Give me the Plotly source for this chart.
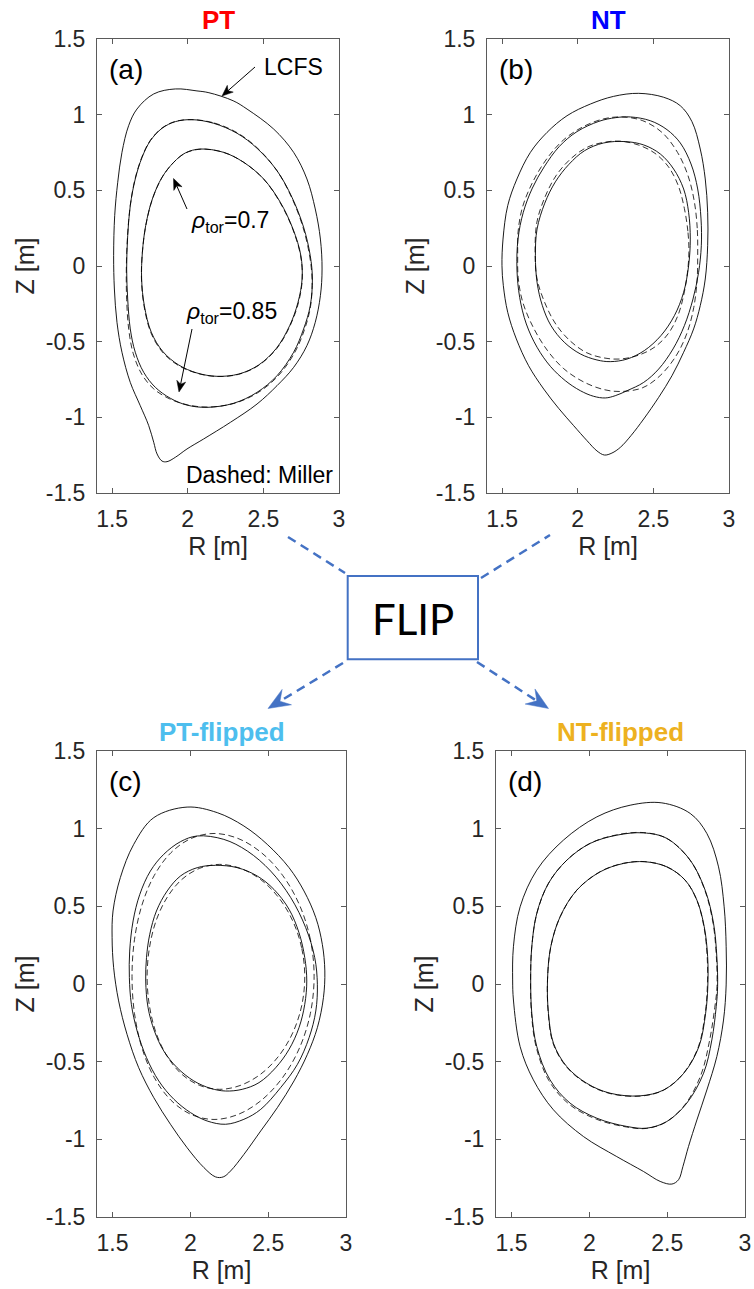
import plotly.graph_objects as go

W, H = 754, 1289

# ---------------- flux surfaces, (R, Z) in metres ----------------
# (a) PT equilibrium
PT_LCFS_R = [1.918, 2.061, 2.140, 2.300, 2.392, 2.568, 2.700, 2.788, 2.843, 2.877, 2.888, 2.877, 2.843, 2.788,
             2.700, 2.590, 2.458, 2.282, 2.105, 1.995, 1.918, 1.863, 1.830, 1.797, 1.775, 1.742, 1.686, 1.620,
             1.565, 1.532, 1.515, 1.510, 1.517, 1.537, 1.565, 1.609, 1.664, 1.775]
PT_LCFS_Z = [1.170, 1.157, 1.145, 1.092, 1.037, 0.905, 0.751, 0.575, 0.377, 0.178, -0.020, -0.196, -0.372,
             -0.526, -0.670, -0.791, -0.912, -1.033, -1.143, -1.209, -1.264, -1.293, -1.289, -1.242, -1.165,
             -1.055, -0.923, -0.769, -0.570, -0.372, -0.152, 0.068, 0.333, 0.553, 0.751, 0.927, 1.037, 1.137]
PT_085_R = [2.028, 2.171, 2.326, 2.458, 2.590, 2.689, 2.766, 2.810, 2.824, 2.810, 2.766, 2.700, 2.590, 2.458,
            2.304, 2.127, 1.995, 1.885, 1.786, 1.709, 1.653, 1.620, 1.603, 1.596, 1.603, 1.620, 1.653, 1.698,
            1.753, 1.830, 1.918]
PT_085_Z = [0.967, 0.943, 0.877, 0.778, 0.630, 0.454, 0.256, 0.068, -0.086, -0.262, -0.416, -0.570, -0.725,
            -0.835, -0.907, -0.934, -0.919, -0.874, -0.802, -0.703, -0.570, -0.416, -0.218, -0.020, 0.200,
            0.399, 0.575, 0.718, 0.828, 0.910, 0.954]
PT_085_MILLER_R = [2.035, 2.175, 2.328, 2.460, 2.588, 2.686, 2.762, 2.806, 2.822, 2.812, 2.772, 2.706, 2.596,
                   2.462, 2.306, 2.135, 2.000, 1.880, 1.775, 1.696, 1.640, 1.610, 1.596, 1.594, 1.602, 1.620,
                   1.652, 1.697, 1.752, 1.830, 1.920]
PT_085_MILLER_Z = [0.967, 0.945, 0.880, 0.780, 0.632, 0.455, 0.256, 0.066, -0.090, -0.266, -0.420, -0.574,
                   -0.728, -0.838, -0.908, -0.932, -0.918, -0.878, -0.812, -0.715, -0.580, -0.420, -0.220,
                   -0.020, 0.200, 0.400, 0.577, 0.720, 0.830, 0.912, 0.956]
PT_070_R = [2.083, 2.237, 2.370, 2.502, 2.612, 2.696, 2.748, 2.756, 2.729, 2.674, 2.586, 2.469, 2.337, 2.193,
            2.061, 1.940, 1.836, 1.759, 1.713, 1.695, 1.700, 1.722, 1.766, 1.830, 1.907, 1.984]
PT_070_Z = [0.773, 0.751, 0.685, 0.575, 0.421, 0.244, 0.068, -0.086, -0.240, -0.394, -0.544, -0.654, -0.714,
            -0.729, -0.707, -0.654, -0.566, -0.438, -0.262, -0.086, 0.090, 0.267, 0.443, 0.586, 0.685, 0.747]
PT_070_MILLER_R = [2.090, 2.240, 2.372, 2.502, 2.610, 2.694, 2.746, 2.757, 2.732, 2.676, 2.588, 2.470, 2.336,
                   2.192, 2.058, 1.936, 1.832, 1.756, 1.711, 1.694, 1.700, 1.723, 1.767, 1.831, 1.908, 1.988]
PT_070_MILLER_Z = [0.772, 0.750, 0.684, 0.574, 0.420, 0.244, 0.068, -0.088, -0.242, -0.396, -0.546, -0.656,
                   -0.716, -0.730, -0.708, -0.656, -0.568, -0.440, -0.264, -0.086, 0.090, 0.268, 0.444, 0.587,
                   0.686, 0.748]

# (b) NT equilibrium
NT_LCFS_R = [2.403, 2.568, 2.678, 2.755, 2.810, 2.843, 2.859, 2.859, 2.843, 2.810, 2.766, 2.700, 2.623, 2.535,
             2.436, 2.352, 2.282, 2.226, 2.176, 2.127, 2.061, 1.973, 1.874, 1.775, 1.675, 1.594, 1.537, 1.508,
             1.499, 1.506, 1.537, 1.598, 1.687, 1.797, 1.929, 2.083, 2.237]
NT_LCFS_Z = [1.141, 1.115, 1.059, 0.954, 0.773, 0.575, 0.355, 0.134, -0.086, -0.262, -0.416, -0.570, -0.725,
             -0.868, -1.011, -1.121, -1.198, -1.236, -1.249, -1.222, -1.154, -1.055, -0.941, -0.813, -0.659,
             -0.482, -0.306, -0.130, 0.002, 0.178, 0.399, 0.575, 0.751, 0.883, 0.993, 1.070, 1.121]
NT_085_R = [2.348, 2.480, 2.590, 2.678, 2.749, 2.793, 2.815, 2.817, 2.799, 2.762, 2.705, 2.630, 2.535, 2.436,
            2.326, 2.248, 2.182, 2.105, 2.017, 1.918, 1.819, 1.731, 1.660, 1.616, 1.598, 1.605, 1.640, 1.700,
            1.778, 1.878, 1.995, 2.140, 2.249]
NT_085_Z = [0.985, 0.960, 0.901, 0.813, 0.674, 0.509, 0.311, 0.134, -0.042, -0.218, -0.394, -0.548, -0.681,
            -0.769, -0.824, -0.857, -0.872, -0.861, -0.824, -0.758, -0.663, -0.537, -0.383, -0.207, -0.020,
            0.178, 0.355, 0.515, 0.655, 0.790, 0.888, 0.956, 0.980]
NT_085_MILLER_R = [2.793, 2.790, 2.770, 2.728, 2.660, 2.560, 2.430, 2.290, 2.170, 2.035, 1.908, 1.800, 1.705,
                   1.635, 1.606, 1.603, 1.606, 1.635, 1.705, 1.800, 1.908, 2.035, 2.170, 2.290, 2.430, 2.545,
                   2.650, 2.722, 2.767, 2.789]
NT_085_MILLER_Z = [0.078, 0.250, 0.430, 0.600, 0.750, 0.880, 0.960, 0.985, 0.972, 0.920, 0.835, 0.715, 0.560,
                   0.390, 0.230, 0.078, -0.074, -0.234, -0.404, -0.559, -0.679, -0.764, -0.816, -0.829, -0.804,
                   -0.724, -0.594, -0.444, -0.274, -0.094]
NT_070_R = [2.315, 2.436, 2.546, 2.634, 2.700, 2.733, 2.744, 2.733, 2.700, 2.639, 2.550, 2.440, 2.326, 2.215,
            2.127, 2.017, 1.911, 1.823, 1.766, 1.731, 1.720, 1.731, 1.782, 1.852, 1.942, 2.045, 2.171]
NT_070_Z = [0.822, 0.800, 0.740, 0.641, 0.509, 0.355, 0.178, 0.002, -0.174, -0.328, -0.460, -0.559, -0.615,
            -0.632, -0.621, -0.581, -0.504, -0.394, -0.262, -0.108, 0.068, 0.244, 0.415, 0.556, 0.672, 0.762,
            0.813]
NT_070_MILLER_R = [2.735, 2.728, 2.705, 2.665, 2.600, 2.510, 2.400, 2.275, 2.160, 2.057, 1.952, 1.856, 1.781,
                   1.730, 1.718, 1.730, 1.781, 1.856, 1.952, 2.057, 2.160, 2.275, 2.400, 2.510, 2.600, 2.665,
                   2.705, 2.728]
NT_070_MILLER_Z = [0.105, 0.230, 0.380, 0.530, 0.655, 0.745, 0.800, 0.825, 0.815, 0.782, 0.707, 0.596, 0.450,
                   0.290, 0.105, -0.080, -0.240, -0.386, -0.497, -0.572, -0.605, -0.615, -0.590, -0.535,
                   -0.445, -0.320, -0.170, -0.020]

# (c) PT-flipped equilibrium
PTF_LCFS_R = [1.979, 2.173, 2.344, 2.494, 2.634, 2.730, 2.806, 2.848, 2.864, 2.855, 2.816, 2.752, 2.666, 2.559,
              2.452, 2.344, 2.258, 2.211, 2.162, 2.087, 1.979, 1.872, 1.765, 1.668, 1.593, 1.539, 1.507, 1.497,
              1.503, 1.550, 1.636, 1.765]
PTF_LCFS_Z = [1.139, 1.103, 1.017, 0.899, 0.749, 0.599, 0.427, 0.255, 0.084, -0.088, -0.281, -0.453, -0.624,
              -0.796, -0.946, -1.097, -1.204, -1.242, -1.242, -1.182, -1.054, -0.903, -0.732, -0.539, -0.324,
              -0.109, 0.105, 0.298, 0.470, 0.685, 0.899, 1.071]
PTF_085_R = [2.044, 2.215, 2.366, 2.516, 2.645, 2.741, 2.799, 2.816, 2.806, 2.763, 2.688, 2.580, 2.452, 2.344,
             2.226, 2.108, 2.001, 1.894, 1.797, 1.718, 1.658, 1.621, 1.608, 1.610, 1.632, 1.675, 1.743, 1.829,
             1.936]
PTF_085_Z = [0.953, 0.931, 0.856, 0.727, 0.556, 0.363, 0.170, -0.002, -0.174, -0.345, -0.517, -0.667, -0.807,
             -0.871, -0.903, -0.882, -0.828, -0.742, -0.624, -0.474, -0.303, -0.131, 0.041, 0.212, 0.406, 0.577,
             0.727, 0.835, 0.916]
PTF_085_MILLER_R = [2.795, 2.771, 2.701, 2.593, 2.457, 2.306, 2.152, 2.005, 1.875, 1.768, 1.689, 1.641, 1.625,
                    1.641, 1.689, 1.768, 1.875, 2.005, 2.152, 2.306, 2.457, 2.593, 2.701, 2.771]
PTF_085_MILLER_Z = [0.049, 0.287, 0.509, 0.699, 0.845, 0.937, 0.969, 0.937, 0.845, 0.699, 0.509, 0.287, 0.049,
                    -0.190, -0.412, -0.602, -0.748, -0.840, -0.872, -0.840, -0.748, -0.602, -0.412, -0.190]
PTF_070_R = [2.162, 2.301, 2.430, 2.537, 2.634, 2.698, 2.735, 2.748, 2.735, 2.698, 2.634, 2.548, 2.441, 2.333,
             2.226, 2.130, 2.022, 1.915, 1.829, 1.769, 1.728, 1.713, 1.718, 1.739, 1.782, 1.851, 1.936, 2.044]
PTF_070_Z = [0.764, 0.749, 0.695, 0.609, 0.481, 0.330, 0.170, 0.019, -0.131, -0.281, -0.421, -0.539, -0.635,
             -0.678, -0.689, -0.672, -0.624, -0.539, -0.431, -0.303, -0.152, 0.019, 0.170, 0.320, 0.470, 0.599,
             0.695, 0.749]
PTF_070_MILLER_R = [2.735, 2.715, 2.657, 2.566, 2.451, 2.321, 2.188, 2.060, 1.945, 1.851, 1.780, 1.737, 1.722,
                    1.737, 1.780, 1.851, 1.945, 2.060, 2.188, 2.321, 2.451, 2.566, 2.657, 2.715]
PTF_070_MILLER_Z = [0.046, 0.233, 0.408, 0.558, 0.673, 0.745, 0.770, 0.745, 0.673, 0.558, 0.408, 0.233, 0.046,
                    -0.141, -0.316, -0.466, -0.581, -0.653, -0.678, -0.653, -0.581, -0.466, -0.316, -0.141]

# (d) NT-flipped equilibrium
NTF_LCFS_R = [2.466, 2.648, 2.755, 2.830, 2.866, 2.879, 2.879, 2.862, 2.819, 2.755, 2.691, 2.637, 2.601, 2.573,
              2.530, 2.455, 2.348, 2.176, 1.962, 1.769, 1.640, 1.555, 1.512, 1.507, 1.512, 1.555, 1.662, 1.833,
              2.048, 2.262]
NTF_LCFS_Z = [1.166, 1.098, 0.969, 0.754, 0.497, 0.240, -0.006, -0.232, -0.467, -0.682, -0.875, -1.046, -1.175,
              -1.260, -1.288, -1.271, -1.207, -1.111, -0.982, -0.810, -0.617, -0.403, -0.103, 0.026, 0.240, 0.497,
              0.733, 0.926, 1.076, 1.151]
NTF_085_R = [2.348, 2.498, 2.648, 2.744, 2.798, 2.819, 2.824, 2.815, 2.787, 2.734, 2.626, 2.498, 2.369, 2.240,
             2.048, 1.876, 1.747, 1.662, 1.630, 1.623, 1.630, 1.662, 1.737, 1.855, 2.005, 2.176]
NTF_085_Z = [0.973, 0.937, 0.797, 0.604, 0.390, 0.176, -0.017, -0.146, -0.360, -0.574, -0.767, -0.885, -0.928,
             -0.917, -0.864, -0.767, -0.617, -0.403, -0.188, 0.026, 0.240, 0.455, 0.648, 0.797, 0.905, 0.958]
NTF_085_MILLER_R = [2.345, 2.496, 2.646, 2.742, 2.795, 2.816, 2.820, 2.806, 2.772, 2.718, 2.618, 2.494, 2.366,
                    2.236, 2.044, 1.870, 1.740, 1.658, 1.628, 1.622, 1.630, 1.663, 1.738, 1.856, 2.005, 2.175]
NTF_085_MILLER_Z = [0.975, 0.938, 0.798, 0.604, 0.390, 0.176, -0.018, -0.150, -0.366, -0.582, -0.772, -0.888,
                    -0.930, -0.920, -0.870, -0.774, -0.622, -0.405, -0.188, 0.026, 0.240, 0.456, 0.649, 0.798,
                    0.906, 0.960]
NTF_070_R = [2.358, 2.498, 2.615, 2.691, 2.738, 2.760, 2.761, 2.747, 2.704, 2.607, 2.478, 2.326, 2.133, 1.983,
             1.855, 1.769, 1.737, 1.731, 1.752, 1.812, 1.919, 2.069, 2.219]
NTF_070_Z = [0.787, 0.754, 0.669, 0.540, 0.369, 0.176, -0.017, -0.188, -0.403, -0.574, -0.682, -0.720, -0.703,
             -0.639, -0.532, -0.381, -0.188, 0.026, 0.240, 0.433, 0.604, 0.722, 0.776]
NTF_070_MILLER_R = [2.355, 2.497, 2.614, 2.690, 2.736, 2.757, 2.758, 2.744, 2.700, 2.604, 2.476, 2.325, 2.132,
                    1.981, 1.853, 1.767, 1.736, 1.731, 1.752, 1.813, 1.920, 2.069, 2.218]
NTF_070_MILLER_Z = [0.788, 0.755, 0.670, 0.541, 0.369, 0.176, -0.018, -0.190, -0.405, -0.576, -0.684, -0.722,
                    -0.705, -0.641, -0.534, -0.383, -0.189, 0.026, 0.240, 0.434, 0.605, 0.723, 0.777]

PANEL_TITLES = ["PT", "NT", "PT-flipped", "NT-flipped"]
PANEL_TITLE_COLORS = ["#FF0000", "#0000FF", "#4DBEEE", "#EDB120"]
PANEL_TAGS = ["(a)", "(b)", "(c)", "(d)"]
R_TICKS = [1.5, 2.0, 2.5, 3.0]
R_TICK_TEXT = ["1.5", "2", "2.5", "3"]
Z_TICKS = [-1.5, -1.0, -0.5, 0.0, 0.5, 1.0, 1.5]
Z_TICK_TEXT = ["-1.5", "-1", "-0.5", "0", "0.5", "1", "1.5"]
R_RANGE = [1.4, 3.0]
Z_RANGE = [-1.5, 1.5]

PANELS = [
    {"solid": [(PT_LCFS_R, PT_LCFS_Z), (PT_085_R, PT_085_Z), (PT_070_R, PT_070_Z)],
     "dashed": [(PT_085_MILLER_R, PT_085_MILLER_Z), (PT_070_MILLER_R, PT_070_MILLER_Z)]},
    {"solid": [(NT_LCFS_R, NT_LCFS_Z), (NT_085_R, NT_085_Z), (NT_070_R, NT_070_Z)],
     "dashed": [(NT_085_MILLER_R, NT_085_MILLER_Z), (NT_070_MILLER_R, NT_070_MILLER_Z)]},
    {"solid": [(PTF_LCFS_R, PTF_LCFS_Z), (PTF_085_R, PTF_085_Z), (PTF_070_R, PTF_070_Z)],
     "dashed": [(PTF_085_MILLER_R, PTF_085_MILLER_Z), (PTF_070_MILLER_R, PTF_070_MILLER_Z)]},
    {"solid": [(NTF_LCFS_R, NTF_LCFS_Z), (NTF_085_R, NTF_085_Z), (NTF_070_R, NTF_070_Z)],
     "dashed": [(NTF_085_MILLER_R, NTF_085_MILLER_Z), (NTF_070_MILLER_R, NTF_070_MILLER_Z)]},
]

# ---------------- layout geometry (pixels) ----------------
# axes boxes: (left, right, top, bottom)
BOXES = [(97, 339, 39, 493), (487, 729, 39, 493), (97, 346, 751, 1217), (496, 745, 751, 1217)]

FONT = "Liberation Sans, Arial, Helvetica, sans-serif"
AX_COLOR = "#262626"
FRAME_COLOR = "#5a5a5a"
BLUE = "#4472C4"


def fx(p):
    return p / W


def fy(p):
    return 1 - p / H


fig = go.Figure()
layout = {}
annotations = []
shapes = []

for i, (panel, box) in enumerate(zip(PANELS, BOXES)):
    n = "" if i == 0 else str(i + 1)
    xa, ya = "x" + n, "y" + n
    left, right, top, bottom = box
    for R, Z in panel["solid"]:
        fig.add_trace(go.Scatter(x=R + R[:1], y=Z + Z[:1], mode="lines", xaxis=xa, yaxis=ya,
                                 line=dict(color="black", width=0.9, shape="spline", smoothing=1),
                                 showlegend=False, hoverinfo="skip"))
    for R, Z in panel["dashed"]:
        fig.add_trace(go.Scatter(x=R + R[:1], y=Z + Z[:1], mode="lines", xaxis=xa, yaxis=ya,
                                 line=dict(color="black", width=0.8, shape="spline", smoothing=1,
                                           dash="6px,3.5px"),
                                 showlegend=False, hoverinfo="skip"))
    common = dict(showgrid=False, zeroline=False, showline=True, linecolor=FRAME_COLOR, linewidth=1,
                  mirror="ticks", ticks="inside", ticklen=5, tickwidth=1, tickcolor=FRAME_COLOR,
                  tickfont=dict(family=FONT, size=23, color=AX_COLOR), fixedrange=True, automargin=True)
    layout["xaxis" + n] = dict(common, domain=[fx(left), fx(right)], range=R_RANGE, anchor=ya,
                               tickmode="array", tickvals=R_TICKS, ticktext=R_TICK_TEXT,
                               ticklabelstandoff=5,
                               title=dict(text="R [m]", font=dict(family=FONT, size=25, color=AX_COLOR),
                                          standoff=4))
    layout["yaxis" + n] = dict(common, domain=[fy(bottom), fy(top)], range=Z_RANGE, anchor=xa,
                               tickmode="array", tickvals=Z_TICKS, ticktext=Z_TICK_TEXT,
                               ticklabelstandoff=6,
                               title=dict(text="Z [m]", font=dict(family=FONT, size=25, color=AX_COLOR),
                                          standoff=4))
    cx = (left + right) / 2
    # panel title
    annotations.append(dict(x=fx(cx), y=fy(top - 19), xref="paper", yref="paper",
                            text="<b>%s</b>" % PANEL_TITLES[i],
                            showarrow=False, xanchor="center", yanchor="middle",
                            font=dict(family=FONT, size=26, color=PANEL_TITLE_COLORS[i])))
    # panel tag
    annotations.append(dict(x=fx(left + 10), y=fy(top + 30), xref="paper", yref="paper", text=PANEL_TAGS[i],
                            showarrow=False, xanchor="left", yanchor="middle",
                            font=dict(family=FONT, size=28, color="black")))


def arrow(tail, tip, color, width, head_len, head_half, notch, dash=None):
    (x0, y0), (x1, y1) = tail, tip
    dx, dy = x1 - x0, y1 - y0
    L = (dx * dx + dy * dy) ** 0.5
    ux, uy = dx / L, dy / L
    px_, py_ = -uy, ux
    bx, by = x1 - head_len * ux, y1 - head_len * uy
    nx, ny = x1 - notch * ux, y1 - notch * uy
    line = dict(color=color, width=width)
    if dash:
        line["dash"] = dash
    out = [dict(type="line", xref="paper", yref="paper", x0=fx(x0), y0=fy(y0), x1=fx(nx), y1=fy(ny),
                line=line)]
    pts = [(x1, y1), (bx + head_half * px_, by + head_half * py_), (nx, ny),
           (bx - head_half * px_, by - head_half * py_)]
    path = "M " + " L ".join("%.5f,%.5f" % (fx(a), fy(b)) for a, b in pts) + " Z"
    out.append(dict(type="path", xref="paper", yref="paper", path=path, fillcolor=color,
                    line=dict(color=color, width=0.5)))
    return out


# labels inside panel (a)
annotations.append(dict(x=fx(262), y=fy(67), xref="paper", yref="paper", text="LCFS", showarrow=False,
                        xanchor="left", yanchor="middle", font=dict(family=FONT, size=23, color="black")))
annotations.append(dict(x=fx(189), y=fy(222), xref="paper", yref="paper", text="<i>ρ</i><sub>tor</sub>=0.7",
                        showarrow=False, xanchor="left", yanchor="middle",
                        font=dict(family=FONT, size=23, color="black")))
annotations.append(dict(x=fx(184), y=fy(312), xref="paper", yref="paper", text="<i>ρ</i><sub>tor</sub>=0.85",
                        showarrow=False, xanchor="left", yanchor="middle",
                        font=dict(family=FONT, size=23, color="black")))
annotations.append(dict(x=fx(335), y=fy(475), xref="paper", yref="paper", text="Dashed: Miller",
                        showarrow=False, xanchor="right", yanchor="middle",
                        font=dict(family=FONT, size=23, color="black")))
shapes += arrow((255, 67), (222, 96), "black", 1, 11, 4.5, 8)
shapes += arrow((187, 209), (173.5, 178.5), "black", 1, 11, 4.5, 8)
shapes += arrow((192, 329), (179, 392), "black", 1, 11, 4.5, 8)

# FLIP box with connectors
shapes.append(dict(type="rect", xref="paper", yref="paper", x0=fx(347.7), x1=fx(478), y0=fy(659.3),
                   y1=fy(576), line=dict(color=BLUE, width=2)))
annotations.append(dict(x=fx(413), y=fy(619), xref="paper", yref="paper", text="FLIP", showarrow=False,
                        xanchor="center", yanchor="middle",
                        font=dict(family="Lato, Open Sans, sans-serif", size=42, color="black")))
shapes.append(dict(type="line", xref="paper", yref="paper", x0=fx(288), y0=fy(537), x1=fx(345), y1=fy(573),
                   line=dict(color=BLUE, width=2.5, dash="9px,6px")))
shapes.append(dict(type="line", xref="paper", yref="paper", x0=fx(481), y0=fy(578), x1=fx(550), y1=fy(535),
                   line=dict(color=BLUE, width=2.5, dash="9px,6px")))
shapes += arrow((343, 663), (268, 708.5), BLUE, 2.5, 22, 9, 14, dash="9px,6px")
shapes += arrow((477, 662), (548.5, 708.5), BLUE, 2.5, 22, 9, 14, dash="9px,6px")

layout.update(width=W, height=H, margin=dict(l=0, r=0, t=0, b=0, pad=0, autoexpand=False),
              paper_bgcolor="white", plot_bgcolor="white",
              annotations=annotations, shapes=shapes, showlegend=False)
fig.update_layout(**layout)
fig.write_html("out.html", config={"displayModeBar": False})
